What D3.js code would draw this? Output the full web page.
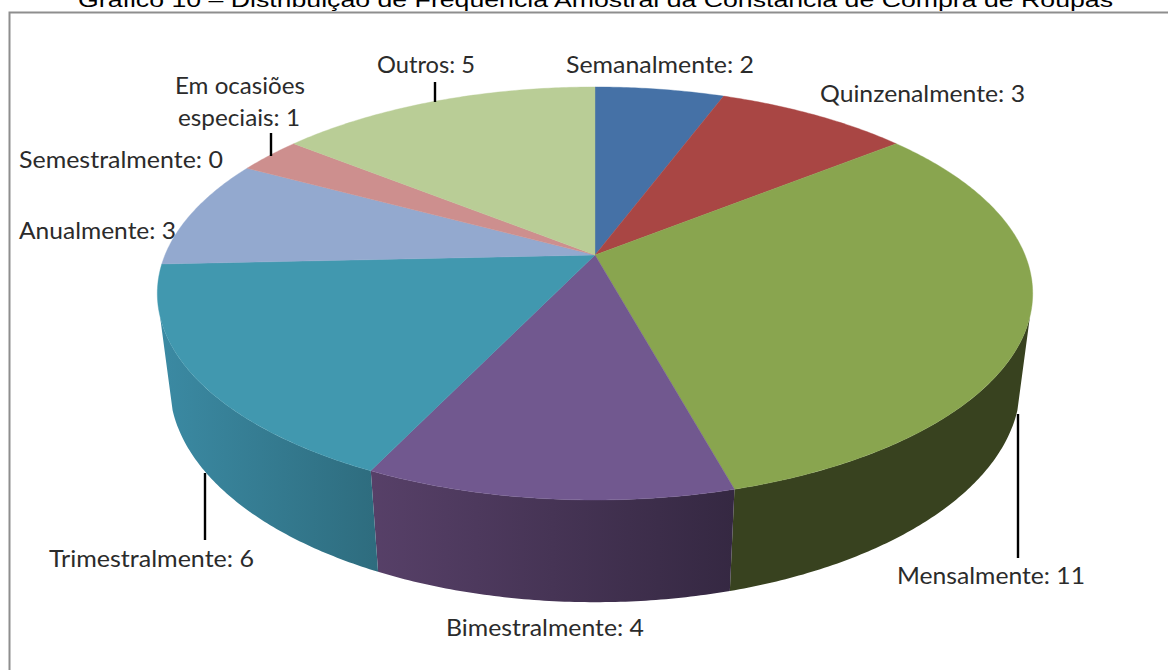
<!DOCTYPE html>
<html><head><meta charset="utf-8">
<style>html,body{margin:0;padding:0;background:#fff;overflow:hidden}svg{display:block}</style>
<script src="https://cdn.jsdelivr.net/npm/d3@7"></script></head>
<body><svg id="c" width="1168" height="670"></svg>
<script>
const title = "Gráfico 10 – Distribuição de Frequência Amostral da Constância de Compra de Roupas";
const categories = ["Semanalmente","Quinzenalmente","Mensalmente","Bimestralmente","Trimestralmente","Anualmente","Semestralmente","Em ocasiões especiais","Outros"];
const values = [2,3,11,4,6,3,0,1,5];
const topColors = ["#4571a6","#a94644","#89a54f","#71588f","#4198af","#93a9cf","#d19392","#cd8f8e","#b9cd96"];
const wallFrom = ["#345480","#7f3432","#38421f","#574068","#3b8aa3","#6f80a0","#9c6e6d","#9c6e6d","#8b9a71"];
const wallTo   = ["#345480","#7f3432","#38421f","#352842","#2e6c7e","#6f80a0","#9c6e6d","#9c6e6d","#8b9a71"];

// label layout: left x, width, baseline y
const labelLayout = [
  {i:0,x:566,w:188,y:73},
  {i:1,x:820,w:205,y:102},
  {i:2,x:897,w:188,y:584},
  {i:3,x:446,w:198,y:636},
  {i:4,x:49,w:205,y:567},
  {i:5,x:19,w:157,y:239},
  {i:6,x:19,w:204,y:168},
  {i:7,x:175,w:130,y:94,text:"Em ocasiões"},
  {i:7,x:178,w:122,y:126,text:"especiais: "},
  {i:8,x:377,w:98,y:73}
];
const leaders = [[271,133,156],[435,82,102],[205,473,540],[1018,414,558]];

const svg = d3.select("#c");
const defs = svg.append("defs");
const cx=595, A=430, a=151.8, b=255, k=0.1864, d=100, m=0.028;
const top3 = t => {const u=Math.sin(t),v=Math.cos(t),w=1+k*v;return [cx+A*u/w,(b-a*v)/w];};
const bot3 = t => {const u=Math.sin(t),v=Math.cos(t),w=1+k*v+m;return [cx+A*u/w,(b+d-a*v)/w];};
const arcT = (s,e) => {const n=Math.max(2,Math.ceil((e-s)/0.01));return d3.range(n+1).map(i=>s+(e-s)*i/n);};
const line = d3.line();

svg.append("rect").attr("x",9.5).attr("y",12.5).attr("width",1200).attr("height",700)
  .attr("fill","#fff").attr("stroke","#8e8e8e").attr("stroke-width",2);

const arcs = d3.pie().sort(null).value(v=>v)(values);
const wallMin = 107*Math.PI/180, wallMax = 253*Math.PI/180;

arcs.forEach((p,i)=>{
  const s=Math.max(p.startAngle,wallMin), e=Math.min(p.endAngle,wallMax);
  if(e<=s) return;
  const ts=arcT(s,e);
  const pts=ts.map(top3).concat(ts.slice().reverse().map(bot3));
  const xs=pts.map(q=>q[0]);
  const g=defs.append("linearGradient").attr("id","w"+i).attr("gradientUnits","userSpaceOnUse")
    .attr("x1",d3.min(xs)).attr("x2",d3.max(xs)).attr("y1",0).attr("y2",0);
  g.append("stop").attr("offset",0).attr("stop-color",wallFrom[i]);
  g.append("stop").attr("offset",1).attr("stop-color",wallTo[i]);
  svg.append("path").attr("d",line(pts)+"Z").attr("fill",`url(#w${i})`);
});

arcs.forEach((p,i)=>{
  if(p.endAngle<=p.startAngle) return;
  const pts=[[cx,b]].concat(arcT(p.startAngle,p.endAngle).map(top3));
  svg.append("path").attr("d",line(pts)+"Z").attr("fill",topColors[i]).attr("stroke",topColors[i]).attr("stroke-width",0.4);
});

leaders.forEach(l=>svg.append("line").attr("x1",l[0]).attr("x2",l[0]).attr("y1",l[1]).attr("y2",l[2])
  .attr("stroke","#000").attr("stroke-width",2.4));

labelLayout.forEach(l=>{
  let txt;
  if(l.text){ txt = l.text.endsWith(": ") ? l.text+values[l.i] : l.text; }
  else txt = categories[l.i]+": "+values[l.i];
  svg.append("text").attr("x",l.x).attr("y",l.y).attr("textLength",l.w).attr("lengthAdjust","spacingAndGlyphs")
    .attr("font-family","Lato, 'Open Sans', sans-serif").attr("font-size",24).attr("fill","#2b2b2b").text(txt);
});

svg.append("text").attr("x",595.5).attr("y",7).attr("text-anchor","middle").attr("textLength",1035).attr("lengthAdjust","spacingAndGlyphs")
  .attr("font-family","'Liberation Sans', Arial, sans-serif").attr("font-size",21).attr("fill","#000").text(title);
</script></body></html>
